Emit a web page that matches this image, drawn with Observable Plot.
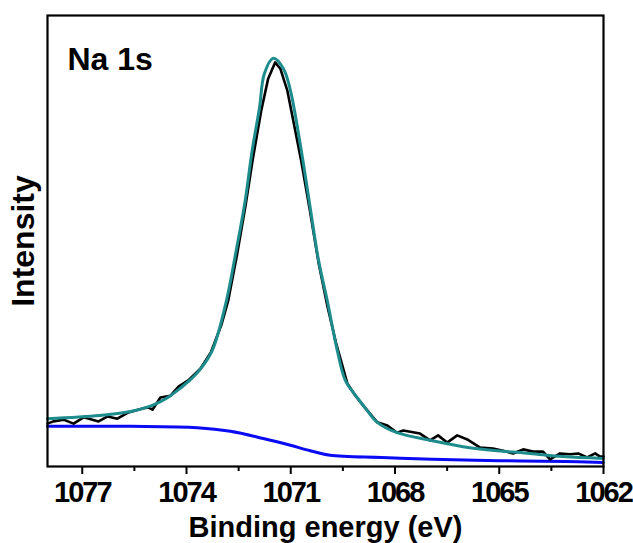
<!DOCTYPE html>
<html>
<head>
<meta charset="utf-8">
<script src="https://cdn.jsdelivr.net/npm/d3@7"></script>
<script src="https://cdn.jsdelivr.net/npm/@observablehq/plot@0.6"></script>
<style>
  html, body { margin: 0; padding: 0; background: #fff; }
  #chart svg { display: block; font-family: "Liberation Sans", Arial, sans-serif; }
  #chart g[aria-label="x-axis tick label"] text { letter-spacing: -2px; }
</style>
</head>
<body>
<div id="chart"></div>
<script>
// Raw spectrum (black): binding energy (eV), intensity (a.u.)
const rawEnergy = [1078.00,1077.83,1077.54,1077.25,1076.96,1076.53,1076.27,1075.99,1075.67,1075.24,1075.10,1074.98,1074.75,1074.46,1074.23,1073.95,1073.60,1073.30,1073.00,1072.80,1072.55,1072.30,1072.10,1071.85,1071.65,1071.45,1071.30,1071.10,1070.90,1070.70,1070.45,1070.20,1069.95,1069.70,1069.37,1069.14,1068.91,1068.51,1068.22,1067.94,1067.76,1067.28,1066.99,1066.76,1066.50,1066.21,1065.92,1065.55,1065.18,1064.89,1064.60,1064.31,1064.03,1063.74,1063.54,1063.25,1062.96,1062.73,1062.47,1062.24,1062.10,1062.00];
const rawIntensity = [9.5,10.0,10.4,9.5,10.9,10.0,11.1,10.6,12.0,12.9,13.1,12.6,15.3,15.7,17.7,19.1,21.7,25.3,31.3,36.8,46.8,57.9,67.8,78.9,86.0,89.6,88.2,83.4,75.6,67.8,56.8,45.2,35.7,27.5,18.4,15.7,13.5,9.8,9.1,7.5,8.0,7.3,5.8,6.9,5.3,6.9,6.0,4.2,4.0,3.5,2.9,3.8,3.3,3.3,1.6,2.9,2.7,2.9,2.0,2.9,2.2,2.2];

// Fitted envelope (teal)
const fitEnergy = [1078.00,1076.50,1075.61,1075.04,1074.75,1074.46,1074.17,1073.88,1073.60,1073.26,1072.85,1072.57,1072.31,1072.11,1071.90,1071.76,1071.50,1071.21,1071.01,1070.73,1070.45,1070.20,1069.95,1069.66,1069.43,1069.09,1068.80,1068.51,1067.94,1066.99,1066.04,1065.06,1064.11,1063.16,1062.01];
const fitIntensity = [10.6,11.3,12.2,13.4,14.4,15.7,17.4,19.3,21.6,25.7,36.8,47.9,59.0,70.1,79.5,87.1,90.5,88.2,83.4,71.6,57.9,45.7,36.8,25.7,19.1,15.3,12.4,9.8,7.5,5.8,4.4,3.5,2.9,2.2,1.8];

// Background (blue)
const bgEnergy = [1078.00,1075.61,1073.69,1072.74,1071.79,1071.01,1070.44,1069.87,1068.37,1066.93,1065.00,1063.10,1062.01];
const bgIntensity = [8.9,8.9,8.6,7.8,6.2,4.7,3.5,2.5,2.0,1.6,1.3,1.1,0.9];

const majorTicks = [1077,1074,1071,1068,1065,1062];
const minorTicks = [1075.5,1072.5,1069.5,1066.5,1063.5];

const raw = rawEnergy.map((e,i) => ({e, v: rawIntensity[i]}));
const fit = fitEnergy.map((e,i) => ({e, v: fitIntensity[i]}));
const bg = bgEnergy.map((e,i) => ({e, v: bgIntensity[i]}));

const chart = Plot.plot({
  width: 633,
  height: 543,
  marginTop: 15,
  marginBottom: 77,
  marginLeft: 47,
  marginRight: 30,
  x: {domain: [1078, 1062]},
  y: {domain: [0, 100]},
  style: {fontFamily: '"Liberation Sans", Arial, sans-serif', background: "#fff"},
  marks: [
    Plot.line(bg, {x: "e", y: "v", stroke: "#0a0af5", strokeWidth: 3, curve: "catmull-rom"}),
    Plot.line(raw, {x: "e", y: "v", stroke: "#000", strokeWidth: 2.6}),
    Plot.line(fit, {x: "e", y: "v", stroke: "#1e8c8c", strokeWidth: 3, curve: "catmull-rom"}),
    Plot.frame({stroke: "#000", strokeWidth: 2.2}),
    Plot.axisX({ticks: minorTicks, tickSize: 5, text: null, label: null, strokeWidth: 2}),
    Plot.axisX({ticks: majorTicks, tickSize: 8, tickPadding: 7, tickFormat: d => String(d), label: null, strokeWidth: 2, fontSize: 29, fontWeight: "bold", fill: "#000"}),
    Plot.axisY({ticks: [], label: null}),
    Plot.text(["Binding energy (eV)"], {frameAnchor: "bottom", dy: 70, lineAnchor: "bottom", fontSize: 29, fontWeight: "bold", fill: "#000"}),
    Plot.text(["Intensity"], {frameAnchor: "left", dx: -24, textAnchor: "middle", rotate: -90, fontSize: 32, fontWeight: "bold", fill: "#000"}),
    Plot.text(["Na 1s"], {frameAnchor: "top-left", dx: 20, dy: 32, textAnchor: "start", lineAnchor: "top", fontSize: 32, fontWeight: "bold", fill: "#000"})
  ]
});
document.getElementById("chart").appendChild(chart);
</script>
</body>
</html>
